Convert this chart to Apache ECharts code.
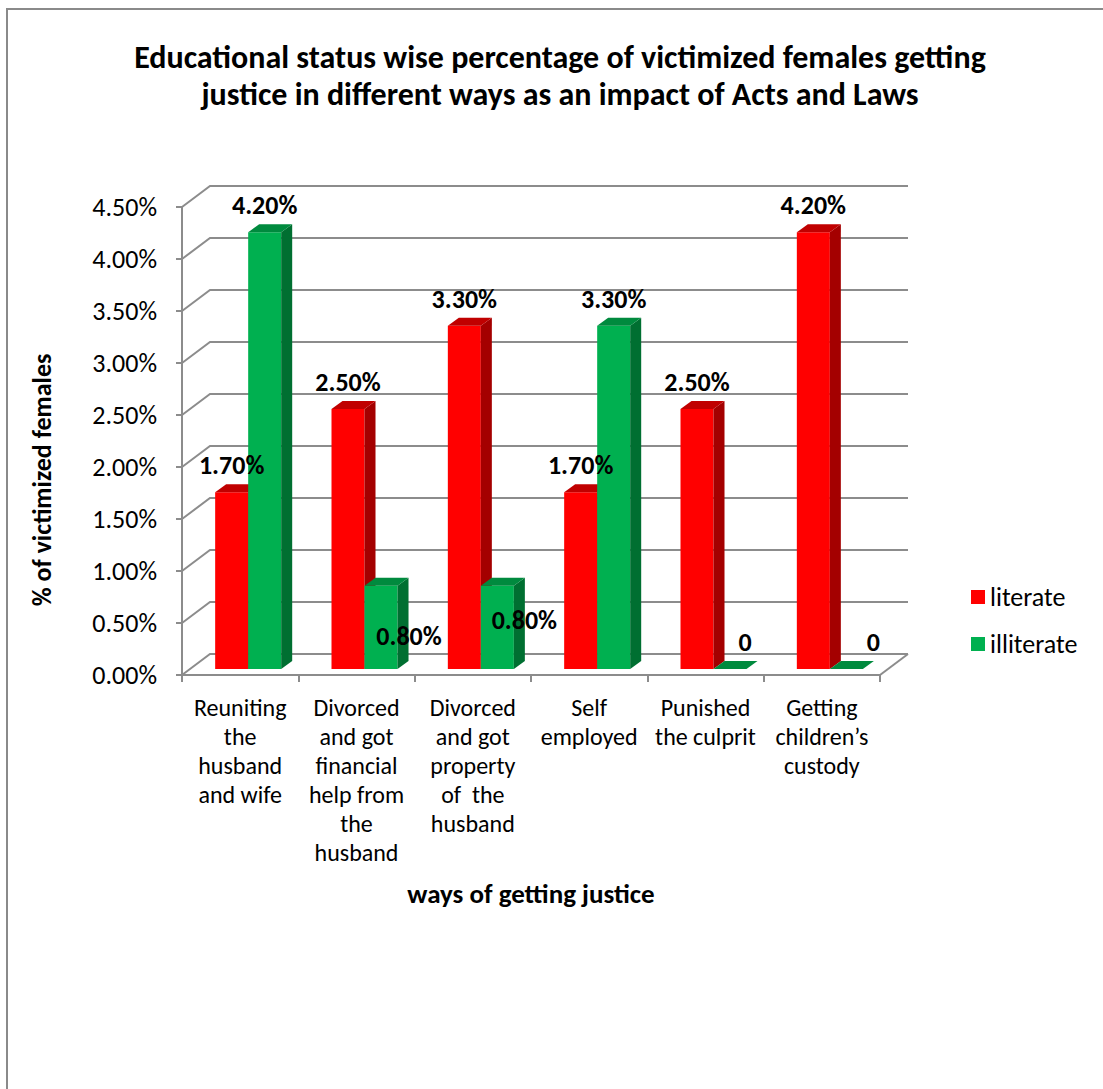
<!DOCTYPE html>
<html>
<head>
<meta charset="utf-8">
<script src="https://cdn.jsdelivr.net/npm/echarts@6/dist/echarts.min.js"></script>
<style>html,body{margin:0;padding:0;background:#fff;}#c{width:1103px;height:1089px;}</style>
</head>
<body>
<div id="c"></div>
<script>
const categories = [
  'Reuniting\nthe\nhusband\nand wife',
  'Divorced\nand got\nfinancial\nhelp from\nthe\nhusband',
  'Divorced\nand got\nproperty\nof  the\nhusband',
  'Self\nemployed',
  'Punished\nthe culprit',
  'Getting\nchildren\u2019s\ncustody'
];
const literate = [0.017, 0.025, 0.033, 0.017, 0.025, 0.042];
const illiterate = [0.042, 0.008, 0.008, 0.033, 0, 0];
const yTicks = [0, 0.005, 0.01, 0.015, 0.02, 0.025, 0.03, 0.035, 0.04, 0.045];
const seriesNames = ['literate', 'illiterate'];

// styling / layout (not data)
const FONT = 'Carlito, Lato, "Liberation Sans", sans-serif';
const GRAY = '#8c8c8c';
const DEPTH = [28, -21];       // back wall offset
const BAR_OFF = [8, -6];       // bar front plane offset
const BAR_SIDE = [11, -8];     // bar depth
const GAP_FR = 0.2163, BAR_FR = 0.2838;
const faceColors = [
  {front: '#ff0000', side: '#a40000', top: '#c00000'},
  {front: '#00b050', side: '#006f31', top: '#008a3e'}
];
const labelShift = [
  [[0,0],[0,0],[0,0],[0,0],[0,0],[0,0]],
  [[0,0],[28,77],[27,61],[0,0],[15,0],[27,0]]
];

function fmt(v) { return v === 0 ? '0' : (v * 100).toFixed(2) + '%'; }

function barRenderer(s) {
  return function (params, api) {
    const cs = params.coordSys;
    const idx = api.value(0);
    const v = api.value(1);
    const bandW = cs.width / categories.length;
    const x0 = cs.x + idx * bandW + GAP_FR * bandW + s * BAR_FR * bandW + BAR_OFF[0];
    const w = BAR_FR * bandW;
    const yb = api.coord([idx, 0])[1] + BAR_OFF[1];
    const yt = api.coord([idx, v])[1] + BAR_OFF[1];
    const c = faceColors[s];
    const dx = BAR_SIDE[0], dy = BAR_SIDE[1];
    const children = [];
    if (yb - yt > 0.5) {
      children.push({type: 'rect', shape: {x: x0, y: yt, width: w, height: yb - yt}, style: {fill: c.front}});
      children.push({type: 'polygon', shape: {points: [[x0 + w, yt], [x0 + w + dx, yt + dy], [x0 + w + dx, yb + dy], [x0 + w, yb]]}, style: {fill: c.side}});
    }
    children.push({type: 'polygon', shape: {points: [[x0, yt], [x0 + dx, yt + dy], [x0 + w + dx, yt + dy], [x0 + w, yt]]}, style: {fill: c.top}});
    const sh = labelShift[s][idx];
    children.push({
      type: 'text', z2: 100,
      style: {
        text: fmt(v), x: x0 + w / 2 + sh[0], y: yt - 27 + sh[1],
        align: 'center', verticalAlign: 'middle',
        fill: '#000', fontSize: 26, fontWeight: 'bold', fontFamily: FONT
      }
    });
    return {type: 'group', children: children};
  };
}

function wallRenderer(params, api) {
  const cs = params.coordSys;
  const v = api.value(0);
  const y = api.coord([0, v])[1];
  const children = [{
    type: 'polyline',
    shape: {points: [[cs.x, y], [cs.x + DEPTH[0], y + DEPTH[1]], [cs.x + cs.width + DEPTH[0], y + DEPTH[1]]]},
    style: {stroke: GRAY, lineWidth: 2, fill: null}
  }];
  if (v === 0) {
    children.push({
      type: 'line',
      shape: {x1: cs.x + cs.width, y1: y, x2: cs.x + cs.width + DEPTH[0], y2: y + DEPTH[1]},
      style: {stroke: GRAY, lineWidth: 2}
    });
  }
  return {type: 'group', children: children};
}

const chart = echarts.init(document.getElementById('c'), null, {renderer: 'svg'});
chart.setOption({
  backgroundColor: '#fff',
  animation: false,
  title: {
    text: 'Educational status wise percentage of victimized females getting\njustice in different ways as an impact of Acts and Laws',
    left: 555, top: 34, textAlign: 'center',
    textStyle: {fontFamily: FONT, fontWeight: 'bold', fontSize: 32, lineHeight: 37, color: '#000'}
  },
  legend: {
    orient: 'vertical', left: 966, top: 579,
    icon: 'rect', itemWidth: 14, itemHeight: 14, itemGap: 21,
    textStyle: {fontFamily: FONT, fontSize: 26, color: '#000', lineHeight: 26},
    data: seriesNames
  },
  grid: {left: 182, right: 223, top: 207, bottom: 414},
  xAxis: {
    type: 'category', data: categories,
    name: 'ways of getting justice', nameLocation: 'middle', nameGap: 205,
    nameTextStyle: {fontFamily: FONT, fontWeight: 'bold', fontSize: 27, color: '#000', verticalAlign: 'top'},
    axisLine: {lineStyle: {color: GRAY, width: 2}},
    axisTick: {show: true, length: 7, lineStyle: {color: GRAY, width: 2}},
    axisLabel: {interval: 0, margin: 18, fontFamily: FONT, fontSize: 24, lineHeight: 29, color: '#000', verticalAlign: 'top'},
    splitLine: {show: false}
  },
  yAxis: {
    type: 'value', min: 0, max: 0.045, interval: 0.005,
    axisLine: {show: true, lineStyle: {color: GRAY, width: 2}},
    axisTick: {show: true, length: 6, lineStyle: {color: GRAY, width: 2}},
    axisLabel: {margin: 25, fontFamily: FONT, fontSize: 26, color: '#000', formatter: function (v) { return (v * 100).toFixed(2) + '%'; }},
    splitLine: {show: false}
  },
  graphic: [
    {type: 'polyline', shape: {points: [[7, 1089], [7, 9], [1103, 9]]}, style: {stroke: '#8a8a8a', lineWidth: 2, fill: null}},
    {type: 'text', x: 42, y: 480, rotation: Math.PI / 2,
     style: {text: '% of victimized females', align: 'center', verticalAlign: 'middle', fontFamily: FONT, fontWeight: 'bold', fontSize: 26, fill: '#000'}}
  ],
  series: [
    {type: 'custom', name: '_wall', z: 1, silent: true, renderItem: wallRenderer,
     data: yTicks.map(function (t) { return [t]; }), encode: {y: 0}},
    {type: 'custom', name: seriesNames[0], z: 2, itemStyle: {color: faceColors[0].front},
     renderItem: barRenderer(0), data: literate.map(function (v, i) { return [i, v]; }), encode: {x: 0, y: 1}},
    {type: 'custom', name: seriesNames[1], z: 2, itemStyle: {color: faceColors[1].front},
     renderItem: barRenderer(1), data: illiterate.map(function (v, i) { return [i, v]; }), encode: {x: 0, y: 1}}
  ]
});
</script>
</body>
</html>
